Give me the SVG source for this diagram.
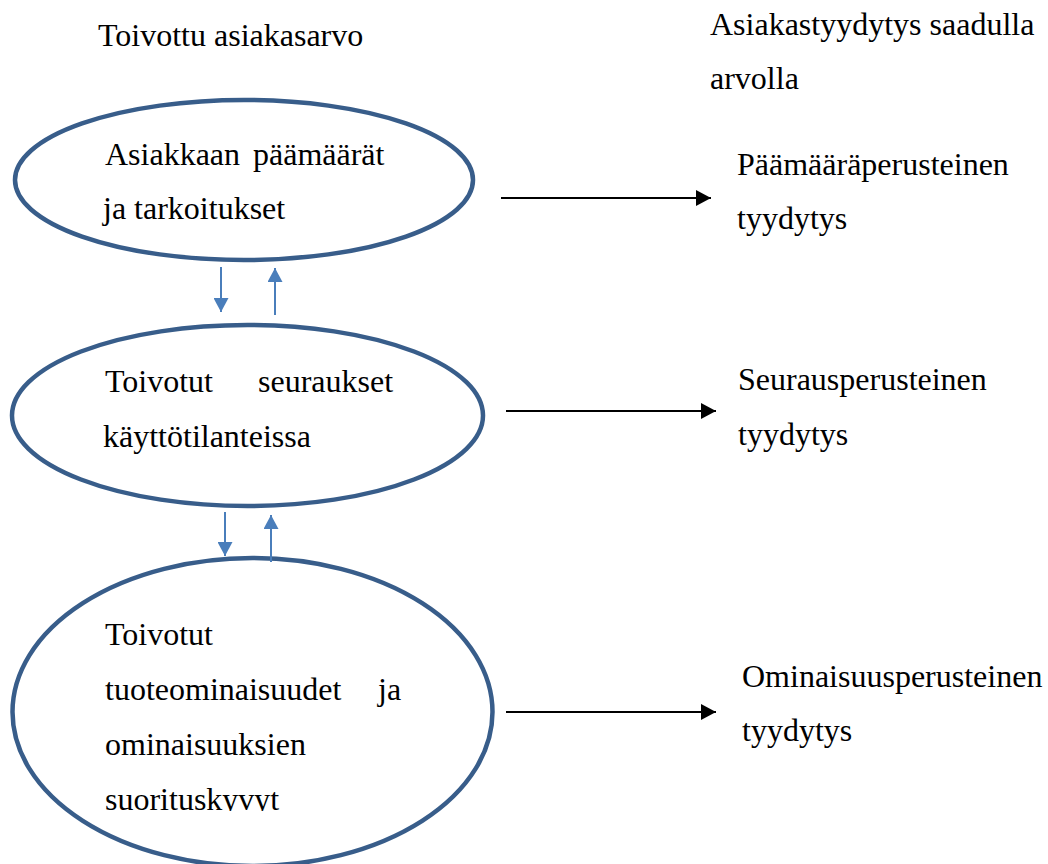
<svg xmlns="http://www.w3.org/2000/svg" width="1048" height="864" viewBox="0 0 1048 864">
<style>
.t{font-family:"Liberation Serif","Times New Roman",serif;font-size:32px;fill:#000}
.node{fill:#fff;stroke:#385D8A;stroke-width:4.5}
.blk{stroke:#000;stroke-width:2;fill:none}
.blu{stroke:#4A7EBB;stroke-width:2;fill:none}
</style>
<defs>
<marker id="ah" markerUnits="userSpaceOnUse" markerWidth="16" markerHeight="16" refX="15" refY="8" orient="auto">
<path d="M0,0 L15,8 L0,16 Z" fill="#000"/>
</marker>
<marker id="ab" markerUnits="userSpaceOnUse" markerWidth="15" markerHeight="15" refX="14" refY="7.5" orient="auto">
<path d="M0,0 L14,7.5 L0,15 Z" fill="#4A7EBB"/>
</marker>
<clipPath id="clipBottom"><rect x="0" y="0" width="1048" height="811"/></clipPath>
</defs>
<rect width="1048" height="864" fill="#fff"/>

<g id="header-left"><text class="t" x="98" y="46">Toivottu asiakasarvo</text></g>
<g id="header-right">
<text class="t" x="710" y="35">Asiakastyydytys saadulla</text>
<text class="t" x="710" y="89">arvolla</text>
</g>

<g id="node-goals">
<ellipse class="node" cx="244" cy="180" rx="229" ry="80"/>
<text class="t" y="165"><tspan x="105">Asiakkaan</tspan><tspan x="253">päämäärät</tspan></text>
<text class="t" x="103" y="219">ja tarkoitukset</text>
</g>

<g id="node-consequences">
<ellipse class="node" cx="247.5" cy="415.5" rx="235.5" ry="90.5"/>
<text class="t" y="392"><tspan x="105">Toivotut</tspan><tspan x="258">seuraukset</tspan></text>
<text class="t" x="103" y="447">käyttötilanteissa</text>
</g>

<g id="node-attributes">
<ellipse class="node" cx="252.5" cy="712" rx="240" ry="154"/>
<text class="t" x="105" y="645">Toivotut</text>
<text class="t" y="700"><tspan x="105">tuoteominaisuudet</tspan><tspan x="378">ja</tspan></text>
<text class="t" x="105" y="755">ominaisuuksien</text>
<text class="t" x="105" y="810" clip-path="url(#clipBottom)">suorituskyvyt</text>
</g>

<g id="satisfaction-goals">
<text class="t" x="737" y="175">Päämääräperusteinen</text>
<text class="t" x="737" y="229">tyydytys</text>
</g>
<g id="satisfaction-consequences">
<text class="t" x="738" y="390">Seurausperusteinen</text>
<text class="t" x="738" y="445">tyydytys</text>
</g>
<g id="satisfaction-attributes">
<text class="t" x="742" y="687">Ominaisuusperusteinen</text>
<text class="t" x="742" y="741">tyydytys</text>
</g>

<g id="connectors">
<line class="blk" x1="501" y1="198" x2="711" y2="198" marker-end="url(#ah)"/>
<line class="blk" x1="506" y1="411" x2="716" y2="411" marker-end="url(#ah)"/>
<line class="blk" x1="506" y1="712" x2="716" y2="712" marker-end="url(#ah)"/>
<line class="blu" x1="221" y1="267" x2="221" y2="312" marker-end="url(#ab)"/>
<line class="blu" x1="275" y1="315" x2="275" y2="268" marker-end="url(#ab)"/>
<line class="blu" x1="225" y1="512" x2="225" y2="556" marker-end="url(#ab)"/>
<line class="blu" x1="271" y1="562" x2="271" y2="515" marker-end="url(#ab)"/>
</g>
</svg>
